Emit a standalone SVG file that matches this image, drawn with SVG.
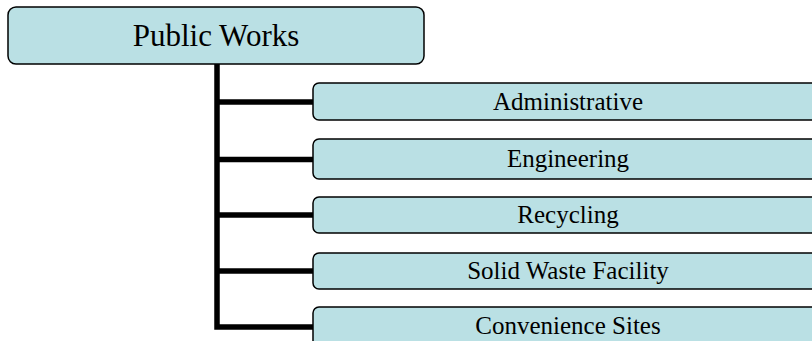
<svg xmlns="http://www.w3.org/2000/svg" width="812" height="341" viewBox="0 0 812 341">
  <style>
    .box { fill: #BAE0E4; stroke: #000; stroke-width: 1.5; }
    .conn { fill: none; stroke: #000; stroke-width: 5.5; stroke-linejoin: miter; }
    .t { font-family: "Liberation Serif", "Times New Roman", serif; fill: #000; text-anchor: middle; }
    .root { font-size: 31px; }
    .child { font-size: 25px; }
  </style>
  <rect width="812" height="341" fill="#fff"/>
  <g id="connectors">
    <path class="conn" d="M217,64 V327 H313"/>
    <path class="conn" d="M217,102 H313"/>
    <path class="conn" d="M217,159.5 H313"/>
    <path class="conn" d="M217,215 H313"/>
    <path class="conn" d="M217,271 H313"/>
  </g>
  <g id="public-works">
    <rect class="box" x="8" y="7" width="416" height="57" rx="8"/>
    <text class="t root" x="216" y="46">Public Works</text>
  </g>
  <g id="administrative">
    <rect class="box" x="313" y="83" width="510" height="37" rx="6"/>
    <text class="t child" x="568" y="109.5">Administrative</text>
  </g>
  <g id="engineering">
    <rect class="box" x="313" y="139" width="510" height="40" rx="6"/>
    <text class="t child" x="568" y="167">Engineering</text>
  </g>
  <g id="recycling">
    <rect class="box" x="313" y="197" width="510" height="36" rx="6"/>
    <text class="t child" x="568" y="223">Recycling</text>
  </g>
  <g id="solid-waste-facility">
    <rect class="box" x="313" y="253" width="510" height="36" rx="6"/>
    <text class="t child" x="568" y="279">Solid Waste Facility</text>
  </g>
  <g id="convenience-sites">
    <rect class="box" x="313" y="307" width="510" height="40" rx="6"/>
    <text class="t child" x="568" y="334">Convenience Sites</text>
  </g>
</svg>
